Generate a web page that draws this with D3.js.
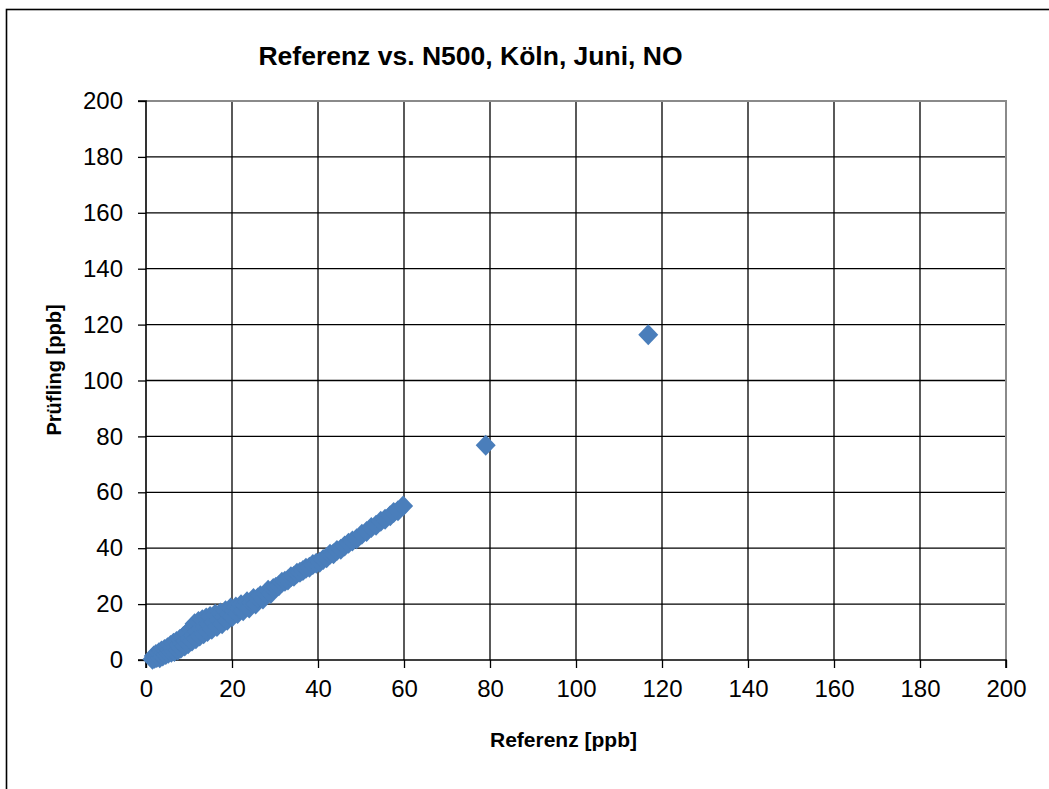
<!DOCTYPE html>
<html>
<head>
<meta charset="utf-8">
<script src="https://cdn.jsdelivr.net/npm/d3@7"></script>
<style>
  html, body { margin: 0; padding: 0; background: #fff; }
  svg { display: block; font-family: "Liberation Sans", Arial, sans-serif; }
</style>
</head>
<body>
<svg id="chart" width="1049" height="789"></svg>
<script>
// NO concentrations, reference analyser vs. N500 (ppb), Köln, June
const referenz = [
  1.5, 1.8, 2.0, 2.3, 2.5, 2.8, 3.0, 3.2, 3.4, 3.6, 3.9, 4.1, 4.3, 4.6, 4.8, 5.0, 5.2, 5.5, 5.7, 5.9,
  6.2, 6.4, 6.6, 6.9, 7.1, 7.4, 7.6, 7.9, 8.1, 8.4, 8.7, 9.0, 9.2, 9.5, 9.8,
  10.1, 10.4, 10.7, 11.0, 11.3, 11.6, 11.9, 12.2, 12.5, 12.8, 13.1, 13.4, 13.7, 14.0, 14.3, 14.6, 14.9,
  15.3, 15.7, 16.1, 16.5, 16.9, 17.3, 17.7, 18.1, 18.5, 18.9, 19.3, 19.7,
  20.1, 20.5, 20.9, 21.3, 21.7, 22.1, 22.6, 23.0, 23.5, 24.0, 24.5, 25.0, 25.5, 26.0, 26.6, 27.2, 27.8, 28.4, 29.0, 29.6,
  30.2, 30.9, 31.6, 32.3, 33.0, 33.7, 34.4, 35.1, 35.8, 36.5, 37.2, 38.0, 38.8, 39.6,
  40.4, 41.2, 42.0, 42.8, 43.6, 44.4, 45.3, 46.2, 47.1, 48.0, 49.0,
  50.2, 51.3, 52.4, 53.5, 54.6, 55.6, 56.8, 57.6, 58.6, 59.8,
  79.0, 116.8
];
const pruefling = [
  0.3, 1.4, 0.6, 2.0, 0.9, 1.6, 2.6, 0.8, 1.9, 3.2, 1.4, 2.6, 3.8, 2.0, 3.2, 4.4, 2.4, 3.6, 5.2, 2.8,
  4.2, 6.0, 3.0, 4.8, 6.6, 3.6, 5.4, 7.4, 4.2, 6.0, 8.4, 5.0, 6.8, 9.6, 5.8,
  7.6, 11.0, 6.8, 8.8, 13.0, 7.6, 10.2, 13.8, 8.6, 11.4, 14.4, 9.4, 12.0, 15.0, 10.2, 12.8, 15.6,
  11.0, 13.6, 16.4, 12.0, 14.4, 16.8, 13.0, 15.4, 17.6, 14.2, 16.4, 18.6,
  15.6, 17.6, 19.0, 16.6, 18.4, 19.8, 17.6, 19.6, 20.8, 18.6, 20.6, 22.0, 20.0, 22.2, 23.0, 21.8, 23.8, 25.0, 23.8, 25.6,
  26.0, 26.6, 27.8, 28.2, 28.6, 29.8, 30.0, 31.0, 31.4, 32.0, 32.8, 33.2, 34.2, 34.6,
  35.0, 36.0, 36.6, 37.8, 38.0, 39.2, 39.6, 40.8, 41.8, 42.6, 43.4,
  45.0, 46.0, 47.4, 48.2, 49.6, 50.4, 51.6, 52.8, 53.4, 55.1,
  76.8, 116.4
];
const xTicks = [0, 20, 40, 60, 80, 100, 120, 140, 160, 180, 200];
const yTicks = [0, 20, 40, 60, 80, 100, 120, 140, 160, 180, 200];

const titleText = "Referenz vs. N500, Köln, Juni, NO";
const xTitle = "Referenz [ppb]";
const yTitle = "Prüfling [ppb]";

const svg = d3.select("#chart");
const plot = { left: 146, right: 1006, top: 101, bottom: 660 };

// outer chart frame (runs off the right and bottom edges)
svg.append("rect")
  .attr("x", 6.5).attr("y", 9.5)
  .attr("width", 1200).attr("height", 1000)
  .attr("fill", "#fff").attr("stroke", "#000").attr("stroke-width", 1.6);

const x = d3.scaleLinear().domain([0, 200]).range([plot.left, plot.right]);
const y = d3.scaleLinear().domain([0, 200]).range([plot.bottom, plot.top]);

// gridlines
const grid = svg.append("g");
grid.selectAll("line.v").data(xTicks.slice(1)).join("line")
  .attr("x1", d => x(d)).attr("x2", d => x(d))
  .attr("y1", plot.top).attr("y2", plot.bottom)
  .attr("stroke", "#000").attr("stroke-width", 1.3);
grid.selectAll("line.h").data(yTicks.slice(1)).join("line")
  .attr("x1", plot.left).attr("x2", plot.right)
  .attr("y1", d => y(d)).attr("y2", d => y(d))
  .attr("stroke", "#000").attr("stroke-width", 1.3);

// plot area border (top / right in grey)
svg.append("line")
  .attr("x1", plot.left).attr("x2", plot.right + 1)
  .attr("y1", plot.top).attr("y2", plot.top)
  .attr("stroke", "#8a8a8a").attr("stroke-width", 2);
svg.append("line")
  .attr("x1", plot.right).attr("x2", plot.right)
  .attr("y1", plot.top).attr("y2", plot.bottom)
  .attr("stroke", "#8a8a8a").attr("stroke-width", 2);

// axes
const xAxis = svg.append("g")
  .attr("transform", `translate(0,${plot.bottom})`)
  .call(d3.axisBottom(x).tickValues(xTicks).tickSize(8).tickPadding(12).tickFormat(d3.format("d")));
const yAxis = svg.append("g")
  .attr("transform", `translate(${plot.left},0)`)
  .call(d3.axisLeft(y).tickValues(yTicks).tickSize(8).tickPadding(15).tickFormat(d3.format("d")));

[xAxis, yAxis].forEach(g => {
  g.select(".domain").attr("stroke", "#000").attr("stroke-width", 1.6);
  g.selectAll(".tick line").attr("stroke", "#000").attr("stroke-width", 1.3);
  g.selectAll(".tick text")
    .attr("fill", "#000")
    .style("font-family", "'Liberation Sans', Arial, sans-serif")
    .style("font-size", "24px");
});
xAxis.select(".domain").attr("d", `M${plot.left},8V0H${plot.right}V8`);
yAxis.select(".domain").attr("d", `M-8,${plot.top}H0V${plot.bottom}H-8`);

// data points as diamonds
const pts = referenz.map((r, i) => ({ r, p: pruefling[i] }));
svg.append("g").selectAll("path").data(pts).join("path")
  .attr("transform", d => `translate(${x(d.r)},${y(d.p)})`)
  .attr("d", "M0,-10.5L10,0L0,10.5L-10,0Z")
  .attr("fill", "#4a7ebb");

// titles
svg.append("text")
  .attr("x", 470.5).attr("y", 65)
  .attr("text-anchor", "middle")
  .style("font-weight", "bold").style("font-size", "26.5px")
  .text(titleText);

svg.append("text")
  .attr("x", 563.5).attr("y", 747)
  .attr("text-anchor", "middle")
  .style("font-weight", "bold").style("font-size", "21px")
  .text(xTitle);

svg.append("text")
  .attr("transform", "translate(61,370) rotate(-90)")
  .attr("text-anchor", "middle")
  .style("font-weight", "bold").style("font-size", "20px")
  .text(yTitle);
</script>
</body>
</html>
